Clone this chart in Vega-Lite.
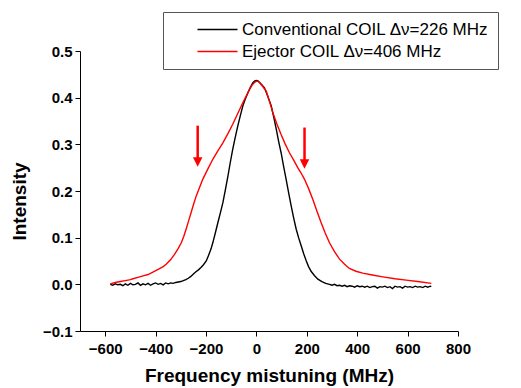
{
  "$schema": "https://vega.github.io/schema/vega-lite/v6.json",
  "width": 378,
  "height": 280,
  "autosize": "none",
  "padding": {"left": 80, "top": 51, "right": 63, "bottom": 57},
  "background": "white",
  "config": {
    "view": {"stroke": null},
    "axis": {
      "grid": false,
      "domainColor": "black",
      "tickColor": "black",
      "labelColor": "black",
      "titleColor": "black",
      "labelFont": "Liberation Sans",
      "labelFontWeight": "bold",
      "labelFontSize": 15,
      "titleFont": "Liberation Sans",
      "titleFontWeight": "bold",
      "titleFontSize": 19
    }
  },
  "datasets": {
    "curves": [
      {"series": "Conventional COIL Δν=226 MHz", "x": -580, "y": 0.000},
      {"series": "Conventional COIL Δν=226 MHz", "x": -570, "y": -0.002},
      {"series": "Conventional COIL Δν=226 MHz", "x": -560, "y": 0.001},
      {"series": "Conventional COIL Δν=226 MHz", "x": -550, "y": -0.001},
      {"series": "Conventional COIL Δν=226 MHz", "x": -540, "y": 0.000},
      {"series": "Conventional COIL Δν=226 MHz", "x": -530, "y": -0.003},
      {"series": "Conventional COIL Δν=226 MHz", "x": -520, "y": 0.001},
      {"series": "Conventional COIL Δν=226 MHz", "x": -510, "y": -0.002},
      {"series": "Conventional COIL Δν=226 MHz", "x": -500, "y": 0.002},
      {"series": "Conventional COIL Δν=226 MHz", "x": -490, "y": -0.001},
      {"series": "Conventional COIL Δν=226 MHz", "x": -480, "y": 0.000},
      {"series": "Conventional COIL Δν=226 MHz", "x": -470, "y": 0.003},
      {"series": "Conventional COIL Δν=226 MHz", "x": -460, "y": -0.002},
      {"series": "Conventional COIL Δν=226 MHz", "x": -450, "y": 0.001},
      {"series": "Conventional COIL Δν=226 MHz", "x": -440, "y": -0.001},
      {"series": "Conventional COIL Δν=226 MHz", "x": -430, "y": 0.002},
      {"series": "Conventional COIL Δν=226 MHz", "x": -420, "y": -0.002},
      {"series": "Conventional COIL Δν=226 MHz", "x": -410, "y": 0.001},
      {"series": "Conventional COIL Δν=226 MHz", "x": -400, "y": 0.003},
      {"series": "Conventional COIL Δν=226 MHz", "x": -390, "y": 0.000},
      {"series": "Conventional COIL Δν=226 MHz", "x": -380, "y": 0.002},
      {"series": "Conventional COIL Δν=226 MHz", "x": -370, "y": -0.001},
      {"series": "Conventional COIL Δν=226 MHz", "x": -360, "y": 0.003},
      {"series": "Conventional COIL Δν=226 MHz", "x": -350, "y": 0.001},
      {"series": "Conventional COIL Δν=226 MHz", "x": -340, "y": 0.003},
      {"series": "Conventional COIL Δν=226 MHz", "x": -330, "y": 0.002},
      {"series": "Conventional COIL Δν=226 MHz", "x": -320, "y": 0.004},
      {"series": "Conventional COIL Δν=226 MHz", "x": -310, "y": 0.005},
      {"series": "Conventional COIL Δν=226 MHz", "x": -300, "y": 0.006},
      {"series": "Conventional COIL Δν=226 MHz", "x": -290, "y": 0.008},
      {"series": "Conventional COIL Δν=226 MHz", "x": -280, "y": 0.010},
      {"series": "Conventional COIL Δν=226 MHz", "x": -270, "y": 0.013},
      {"series": "Conventional COIL Δν=226 MHz", "x": -260, "y": 0.017},
      {"series": "Conventional COIL Δν=226 MHz", "x": -250, "y": 0.022},
      {"series": "Conventional COIL Δν=226 MHz", "x": -240, "y": 0.027},
      {"series": "Conventional COIL Δν=226 MHz", "x": -230, "y": 0.031},
      {"series": "Conventional COIL Δν=226 MHz", "x": -220, "y": 0.036},
      {"series": "Conventional COIL Δν=226 MHz", "x": -210, "y": 0.042},
      {"series": "Conventional COIL Δν=226 MHz", "x": -199, "y": 0.050},
      {"series": "Conventional COIL Δν=226 MHz", "x": -190, "y": 0.062},
      {"series": "Conventional COIL Δν=226 MHz", "x": -180, "y": 0.076},
      {"series": "Conventional COIL Δν=226 MHz", "x": -173, "y": 0.089},
      {"series": "Conventional COIL Δν=226 MHz", "x": -163, "y": 0.110},
      {"series": "Conventional COIL Δν=226 MHz", "x": -153, "y": 0.132},
      {"series": "Conventional COIL Δν=226 MHz", "x": -143, "y": 0.153},
      {"series": "Conventional COIL Δν=226 MHz", "x": -133, "y": 0.175},
      {"series": "Conventional COIL Δν=226 MHz", "x": -123, "y": 0.203},
      {"series": "Conventional COIL Δν=226 MHz", "x": -113, "y": 0.232},
      {"series": "Conventional COIL Δν=226 MHz", "x": -104, "y": 0.260},
      {"series": "Conventional COIL Δν=226 MHz", "x": -94, "y": 0.289},
      {"series": "Conventional COIL Δν=226 MHz", "x": -84, "y": 0.315},
      {"series": "Conventional COIL Δν=226 MHz", "x": -74, "y": 0.339},
      {"series": "Conventional COIL Δν=226 MHz", "x": -64, "y": 0.361},
      {"series": "Conventional COIL Δν=226 MHz", "x": -54, "y": 0.382},
      {"series": "Conventional COIL Δν=226 MHz", "x": -44, "y": 0.397},
      {"series": "Conventional COIL Δν=226 MHz", "x": -34, "y": 0.410},
      {"series": "Conventional COIL Δν=226 MHz", "x": -24, "y": 0.422},
      {"series": "Conventional COIL Δν=226 MHz", "x": -14, "y": 0.432},
      {"series": "Conventional COIL Δν=226 MHz", "x": -6, "y": 0.436},
      {"series": "Conventional COIL Δν=226 MHz", "x": 0, "y": 0.437},
      {"series": "Conventional COIL Δν=226 MHz", "x": 6, "y": 0.436},
      {"series": "Conventional COIL Δν=226 MHz", "x": 14, "y": 0.432},
      {"series": "Conventional COIL Δν=226 MHz", "x": 22, "y": 0.427},
      {"series": "Conventional COIL Δν=226 MHz", "x": 32, "y": 0.421},
      {"series": "Conventional COIL Δν=226 MHz", "x": 45, "y": 0.403},
      {"series": "Conventional COIL Δν=226 MHz", "x": 59, "y": 0.382},
      {"series": "Conventional COIL Δν=226 MHz", "x": 69, "y": 0.358},
      {"series": "Conventional COIL Δν=226 MHz", "x": 79, "y": 0.332},
      {"series": "Conventional COIL Δν=226 MHz", "x": 88, "y": 0.307},
      {"series": "Conventional COIL Δν=226 MHz", "x": 98, "y": 0.282},
      {"series": "Conventional COIL Δν=226 MHz", "x": 108, "y": 0.253},
      {"series": "Conventional COIL Δν=226 MHz", "x": 118, "y": 0.225},
      {"series": "Conventional COIL Δν=226 MHz", "x": 128, "y": 0.196},
      {"series": "Conventional COIL Δν=226 MHz", "x": 138, "y": 0.168},
      {"series": "Conventional COIL Δν=226 MHz", "x": 148, "y": 0.142},
      {"series": "Conventional COIL Δν=226 MHz", "x": 158, "y": 0.118},
      {"series": "Conventional COIL Δν=226 MHz", "x": 168, "y": 0.099},
      {"series": "Conventional COIL Δν=226 MHz", "x": 178, "y": 0.082},
      {"series": "Conventional COIL Δν=226 MHz", "x": 188, "y": 0.065},
      {"series": "Conventional COIL Δν=226 MHz", "x": 198, "y": 0.050},
      {"series": "Conventional COIL Δν=226 MHz", "x": 207, "y": 0.038},
      {"series": "Conventional COIL Δν=226 MHz", "x": 217, "y": 0.028},
      {"series": "Conventional COIL Δν=226 MHz", "x": 230, "y": 0.019},
      {"series": "Conventional COIL Δν=226 MHz", "x": 244, "y": 0.011},
      {"series": "Conventional COIL Δν=226 MHz", "x": 260, "y": 0.006},
      {"series": "Conventional COIL Δν=226 MHz", "x": 275, "y": 0.002},
      {"series": "Conventional COIL Δν=226 MHz", "x": 290, "y": 0.000},
      {"series": "Conventional COIL Δν=226 MHz", "x": 300, "y": -0.002},
      {"series": "Conventional COIL Δν=226 MHz", "x": 310, "y": 0.000},
      {"series": "Conventional COIL Δν=226 MHz", "x": 320, "y": -0.003},
      {"series": "Conventional COIL Δν=226 MHz", "x": 330, "y": -0.002},
      {"series": "Conventional COIL Δν=226 MHz", "x": 340, "y": -0.004},
      {"series": "Conventional COIL Δν=226 MHz", "x": 350, "y": -0.002},
      {"series": "Conventional COIL Δν=226 MHz", "x": 360, "y": -0.005},
      {"series": "Conventional COIL Δν=226 MHz", "x": 370, "y": -0.003},
      {"series": "Conventional COIL Δν=226 MHz", "x": 380, "y": -0.004},
      {"series": "Conventional COIL Δν=226 MHz", "x": 390, "y": -0.006},
      {"series": "Conventional COIL Δν=226 MHz", "x": 400, "y": -0.003},
      {"series": "Conventional COIL Δν=226 MHz", "x": 410, "y": -0.005},
      {"series": "Conventional COIL Δν=226 MHz", "x": 420, "y": -0.004},
      {"series": "Conventional COIL Δν=226 MHz", "x": 430, "y": -0.006},
      {"series": "Conventional COIL Δν=226 MHz", "x": 440, "y": -0.004},
      {"series": "Conventional COIL Δν=226 MHz", "x": 450, "y": -0.007},
      {"series": "Conventional COIL Δν=226 MHz", "x": 460, "y": -0.005},
      {"series": "Conventional COIL Δν=226 MHz", "x": 470, "y": -0.004},
      {"series": "Conventional COIL Δν=226 MHz", "x": 480, "y": -0.008},
      {"series": "Conventional COIL Δν=226 MHz", "x": 490, "y": -0.005},
      {"series": "Conventional COIL Δν=226 MHz", "x": 500, "y": -0.006},
      {"series": "Conventional COIL Δν=226 MHz", "x": 510, "y": -0.004},
      {"series": "Conventional COIL Δν=226 MHz", "x": 520, "y": -0.007},
      {"series": "Conventional COIL Δν=226 MHz", "x": 530, "y": -0.005},
      {"series": "Conventional COIL Δν=226 MHz", "x": 540, "y": -0.009},
      {"series": "Conventional COIL Δν=226 MHz", "x": 550, "y": -0.004},
      {"series": "Conventional COIL Δν=226 MHz", "x": 560, "y": -0.006},
      {"series": "Conventional COIL Δν=226 MHz", "x": 570, "y": -0.005},
      {"series": "Conventional COIL Δν=226 MHz", "x": 580, "y": -0.008},
      {"series": "Conventional COIL Δν=226 MHz", "x": 590, "y": -0.004},
      {"series": "Conventional COIL Δν=226 MHz", "x": 600, "y": -0.006},
      {"series": "Conventional COIL Δν=226 MHz", "x": 610, "y": -0.005},
      {"series": "Conventional COIL Δν=226 MHz", "x": 620, "y": -0.007},
      {"series": "Conventional COIL Δν=226 MHz", "x": 630, "y": -0.004},
      {"series": "Conventional COIL Δν=226 MHz", "x": 640, "y": -0.006},
      {"series": "Conventional COIL Δν=226 MHz", "x": 650, "y": -0.005},
      {"series": "Conventional COIL Δν=226 MHz", "x": 660, "y": -0.007},
      {"series": "Conventional COIL Δν=226 MHz", "x": 670, "y": -0.004},
      {"series": "Conventional COIL Δν=226 MHz", "x": 680, "y": -0.006},
      {"series": "Conventional COIL Δν=226 MHz", "x": 690, "y": -0.004},
      {"series": "Conventional COIL Δν=226 MHz", "x": 694, "y": -0.005},
      {"series": "Ejector COIL Δν=406 MHz", "x": -580, "y": 0.001},
      {"series": "Ejector COIL Δν=406 MHz", "x": -560, "y": 0.004},
      {"series": "Ejector COIL Δν=406 MHz", "x": -540, "y": 0.006},
      {"series": "Ejector COIL Δν=406 MHz", "x": -520, "y": 0.008},
      {"series": "Ejector COIL Δν=406 MHz", "x": -500, "y": 0.010},
      {"series": "Ejector COIL Δν=406 MHz", "x": -490, "y": 0.012},
      {"series": "Ejector COIL Δν=406 MHz", "x": -470, "y": 0.015},
      {"series": "Ejector COIL Δν=406 MHz", "x": -450, "y": 0.018},
      {"series": "Ejector COIL Δν=406 MHz", "x": -430, "y": 0.021},
      {"series": "Ejector COIL Δν=406 MHz", "x": -411, "y": 0.026},
      {"series": "Ejector COIL Δν=406 MHz", "x": -390, "y": 0.032},
      {"series": "Ejector COIL Δν=406 MHz", "x": -370, "y": 0.038},
      {"series": "Ejector COIL Δν=406 MHz", "x": -358, "y": 0.043},
      {"series": "Ejector COIL Δν=406 MHz", "x": -340, "y": 0.053},
      {"series": "Ejector COIL Δν=406 MHz", "x": -325, "y": 0.064},
      {"series": "Ejector COIL Δν=406 MHz", "x": -310, "y": 0.077},
      {"series": "Ejector COIL Δν=406 MHz", "x": -298, "y": 0.089},
      {"series": "Ejector COIL Δν=406 MHz", "x": -288, "y": 0.103},
      {"series": "Ejector COIL Δν=406 MHz", "x": -279, "y": 0.118},
      {"series": "Ejector COIL Δν=406 MHz", "x": -269, "y": 0.136},
      {"series": "Ejector COIL Δν=406 MHz", "x": -259, "y": 0.154},
      {"series": "Ejector COIL Δν=406 MHz", "x": -249, "y": 0.172},
      {"series": "Ejector COIL Δν=406 MHz", "x": -239, "y": 0.189},
      {"series": "Ejector COIL Δν=406 MHz", "x": -226, "y": 0.207},
      {"series": "Ejector COIL Δν=406 MHz", "x": -213, "y": 0.225},
      {"series": "Ejector COIL Δν=406 MHz", "x": -193, "y": 0.247},
      {"series": "Ejector COIL Δν=406 MHz", "x": -173, "y": 0.268},
      {"series": "Ejector COIL Δν=406 MHz", "x": -153, "y": 0.286},
      {"series": "Ejector COIL Δν=406 MHz", "x": -133, "y": 0.303},
      {"series": "Ejector COIL Δν=406 MHz", "x": -113, "y": 0.323},
      {"series": "Ejector COIL Δν=406 MHz", "x": -94, "y": 0.343},
      {"series": "Ejector COIL Δν=406 MHz", "x": -74, "y": 0.366},
      {"series": "Ejector COIL Δν=406 MHz", "x": -54, "y": 0.389},
      {"series": "Ejector COIL Δν=406 MHz", "x": -40, "y": 0.404},
      {"series": "Ejector COIL Δν=406 MHz", "x": -27, "y": 0.418},
      {"series": "Ejector COIL Δν=406 MHz", "x": -17, "y": 0.427},
      {"series": "Ejector COIL Δν=406 MHz", "x": -7, "y": 0.433},
      {"series": "Ejector COIL Δν=406 MHz", "x": 0, "y": 0.435},
      {"series": "Ejector COIL Δν=406 MHz", "x": 6, "y": 0.435},
      {"series": "Ejector COIL Δν=406 MHz", "x": 15, "y": 0.431},
      {"series": "Ejector COIL Δν=406 MHz", "x": 25, "y": 0.424},
      {"series": "Ejector COIL Δν=406 MHz", "x": 39, "y": 0.414},
      {"series": "Ejector COIL Δν=406 MHz", "x": 52, "y": 0.392},
      {"series": "Ejector COIL Δν=406 MHz", "x": 65, "y": 0.368},
      {"series": "Ejector COIL Δν=406 MHz", "x": 81, "y": 0.344},
      {"series": "Ejector COIL Δν=406 MHz", "x": 98, "y": 0.321},
      {"series": "Ejector COIL Δν=406 MHz", "x": 114, "y": 0.301},
      {"series": "Ejector COIL Δν=406 MHz", "x": 131, "y": 0.282},
      {"series": "Ejector COIL Δν=406 MHz", "x": 148, "y": 0.266},
      {"series": "Ejector COIL Δν=406 MHz", "x": 164, "y": 0.250},
      {"series": "Ejector COIL Δν=406 MHz", "x": 178, "y": 0.238},
      {"series": "Ejector COIL Δν=406 MHz", "x": 191, "y": 0.225},
      {"series": "Ejector COIL Δν=406 MHz", "x": 208, "y": 0.204},
      {"series": "Ejector COIL Δν=406 MHz", "x": 224, "y": 0.182},
      {"series": "Ejector COIL Δν=406 MHz", "x": 240, "y": 0.157},
      {"series": "Ejector COIL Δν=406 MHz", "x": 257, "y": 0.132},
      {"series": "Ejector COIL Δν=406 MHz", "x": 273, "y": 0.110},
      {"series": "Ejector COIL Δν=406 MHz", "x": 290, "y": 0.089},
      {"series": "Ejector COIL Δν=406 MHz", "x": 310, "y": 0.070},
      {"series": "Ejector COIL Δν=406 MHz", "x": 330, "y": 0.054},
      {"series": "Ejector COIL Δν=406 MHz", "x": 350, "y": 0.043},
      {"series": "Ejector COIL Δν=406 MHz", "x": 369, "y": 0.034},
      {"series": "Ejector COIL Δν=406 MHz", "x": 395, "y": 0.028},
      {"series": "Ejector COIL Δν=406 MHz", "x": 422, "y": 0.024},
      {"series": "Ejector COIL Δν=406 MHz", "x": 460, "y": 0.020},
      {"series": "Ejector COIL Δν=406 MHz", "x": 502, "y": 0.016},
      {"series": "Ejector COIL Δν=406 MHz", "x": 550, "y": 0.012},
      {"series": "Ejector COIL Δν=406 MHz", "x": 594, "y": 0.009},
      {"series": "Ejector COIL Δν=406 MHz", "x": 640, "y": 0.006},
      {"series": "Ejector COIL Δν=406 MHz", "x": 694, "y": 0.002}
    ],
    "arrows": [
      {"x": -233, "ytop": 0.340, "ybase": 0.268, "yhead": 0.262},
      {"x": 191, "ytop": 0.336, "ybase": 0.265, "yhead": 0.258}
    ]
  },
  "layer": [
    {
      "data": {"name": "curves"},
      "mark": {"type": "line", "strokeWidth": 1.4},
      "encoding": {
        "x": {
          "field": "x", "type": "quantitative",
          "scale": {"domain": [-700, 800], "nice": false, "zero": false},
          "axis": {
            "title": "Frequency mistuning (MHz)",
            "values": [-600, -500, -400, -300, -200, -100, 0, 100, 200, 300, 400, 500, 600, 700, 800],
            "labelExpr": "datum.value % 200 === 0 ? datum.label : ''",
            "tickSize": {"condition": {"test": "datum.value % 200 === 0", "value": 5}, "value": 3},
            "labelPadding": 5,
            "titlePadding": 10,
            "labelFlush": false,
            "labelOverlap": false
          }
        },
        "y": {
          "field": "y", "type": "quantitative",
          "scale": {"domain": [-0.1, 0.5], "nice": false, "zero": false},
          "axis": {
            "title": "Intensity",
            "values": [-0.1, -0.05, 0, 0.05, 0.1, 0.15, 0.2, 0.25, 0.3, 0.35, 0.4, 0.45, 0.5],
            "format": ".1f",
            "labelExpr": "abs(round(datum.value * 20)) % 2 === 0 ? datum.label : ''",
            "tickSize": {"condition": {"test": "abs(round(datum.value * 20)) % 2 === 0", "value": 5}, "value": 3},
            "labelPadding": 3,
            "titlePadding": 13,
            "titleY": 150,
            "labelFlush": false,
            "labelOverlap": false
          }
        },
        "color": {
          "field": "series", "type": "nominal",
          "scale": {"domain": ["Conventional COIL Δν=226 MHz", "Ejector COIL Δν=406 MHz"], "range": ["#000000", "#ff0000"]},
          "legend": {
            "orient": "none",
            "legendX": 83,
            "legendY": -39,
            "title": null,
            "strokeColor": "#555555",
            "fillColor": "white",
            "padding": 9,
            "symbolType": "M-4,0H4",
            "symbolSize": 100,
            "symbolStrokeWidth": 1.3,
            "symbolOffset": 37,
            "labelOffset": 16,
            "labelFont": "Liberation Sans",
            "labelFontSize": 17,
            "labelColor": "black",
            "rowPadding": 4,
            "labelLimit": 400
          }
        }
      }
    },
    {
      "data": {"name": "arrows"},
      "mark": {"type": "rule", "color": "#ff0000", "strokeWidth": 2.5},
      "encoding": {
        "x": {"field": "x", "type": "quantitative"},
        "y": {"field": "ytop", "type": "quantitative"},
        "y2": {"field": "ybase"}
      }
    },
    {
      "data": {"name": "arrows"},
      "mark": {"type": "point", "shape": "M-1,-1L1,-1L0,1Z", "filled": true, "size": 90, "color": "#ff0000", "opacity": 1},
      "encoding": {
        "x": {"field": "x", "type": "quantitative"},
        "y": {"field": "yhead", "type": "quantitative"}
      }
    }
  ]
}
